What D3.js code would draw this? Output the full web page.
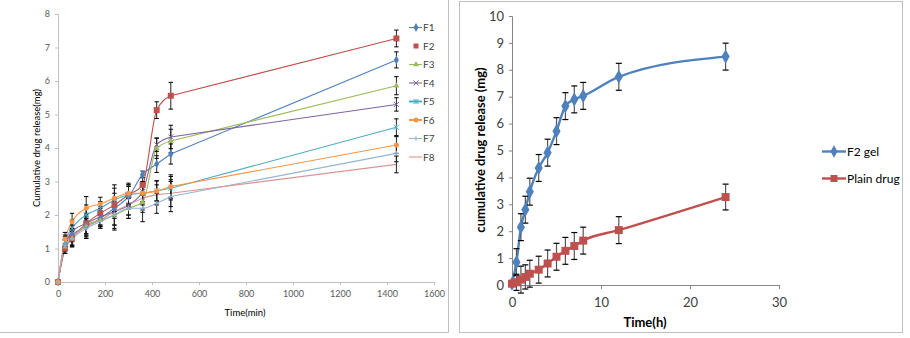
<!DOCTYPE html>
<html>
<head>
<meta charset="utf-8">
<script src="https://cdn.jsdelivr.net/npm/d3@7"></script>
<style>
  body { margin: 0; background: #fff; }
  svg { display: block; }
</style>
</head>
<body>
<script>
// left chart: release of F1..F8 over minutes
const timeMin = [0, 30, 60, 120, 180, 240, 300, 360, 420, 480, 1440];
const formulations = ["F1", "F2", "F3", "F4", "F5", "F6", "F7", "F8"];
const releaseF = [
  [0, 1.1, 1.4, 1.65, 1.9, 2.2, 2.55, 3.21, 3.52, 3.82, 6.63],
  [0, 1.0, 1.3, 1.75, 2.05, 2.3, 2.6, 2.9, 5.13, 5.56, 7.27],
  [0, 1.05, 1.3, 1.7, 1.85, 2.0, 2.2, 2.38, 3.99, 4.21, 5.86],
  [0, 1.1, 1.5, 1.75, 1.95, 2.1, 2.3, 2.7, 4.1, 4.33, 5.3],
  [0, 1.2, 1.6, 2.0, 2.2, 2.45, 2.6, 2.65, 2.72, 2.8, 4.62],
  [0, 1.28, 1.8, 2.2, 2.33, 2.5, 2.65, 2.65, 2.72, 2.85, 4.09],
  [0, 1.1, 1.3, 1.6, 1.8, 2.0, 2.2, 2.2, 2.35, 2.55, 3.84],
  [0, 1.15, 1.35, 1.65, 1.85, 2.1, 2.3, 2.5, 2.6, 2.65, 3.51]
];
const sdF = [
  [0, 0.15, 0.2, 0.25, 0.2, 0.3, 0.3, 0.1, 0.25, 0.3, 0.24],
  [0, 0.15, 0.25, 0.45, 0.2, 0.35, 0.3, 0.3, 0.25, 0.4, 0.25],
  [0, 0.2, 0.2, 0.3, 0.2, 0.4, 0.3, 0.3, 0.3, 0.35, 0.27],
  [0, 0.15, 0.2, 0.3, 0.25, 0.4, 0.3, 0.3, 0.2, 0.35, 0.2],
  [0, 0.2, 0.25, 0.3, 0.2, 0.35, 0.3, 0.35, 0.3, 0.35, 0.25],
  [0, 0.2, 0.25, 0.35, 0.2, 0.4, 0.3, 0.3, 0.3, 0.35, 0.25],
  [0, 0.2, 0.25, 0.3, 0.2, 0.45, 0.3, 0.4, 0.3, 0.45, 0.25],
  [0, 0.2, 0.25, 0.3, 0.2, 0.4, 0.3, 0.35, 0.3, 0.4, 0.25]
];
const colorsF = ["#4F81BD", "#C0504D", "#9BBB59", "#8064A2", "#4BACC6", "#F79646", "#95B3D7", "#D99694"];
const markersF = ["diamond", "square", "triangle", "x", "star", "circle", "plus", "none"];

// right chart: F2 gel vs plain drug over hours
const timeH = [0, 0.5, 1, 1.5, 2, 3, 4, 5, 6, 7, 8, 12, 24];
const gelRelease = [0.05, 0.85, 2.15, 2.8, 3.47, 4.35, 4.92, 5.72, 6.65, 6.9, 7.03, 7.74, 8.49];
const gelSd = [0.05, 0.5, 0.5, 0.5, 0.5, 0.5, 0.5, 0.5, 0.5, 0.5, 0.5, 0.5, 0.5];
const plainRelease = [0.05, 0.1, 0.2, 0.3, 0.42, 0.57, 0.8, 1.05, 1.27, 1.45, 1.65, 2.04, 3.27];
const plainSd = [0.05, 0.3, 0.5, 0.45, 0.5, 0.5, 0.5, 0.5, 0.5, 0.5, 0.5, 0.5, 0.48];

const W = 910, H = 338;
const font = "Lato, 'Open Sans', sans-serif";

const svg = d3.select("body").append("svg")
  .attr("width", W).attr("height", H)
  .style("font-family", font);

// panel frames
svg.append("path")
  .attr("d", "M0,332.5H448.5V-1")
  .attr("fill", "none").attr("stroke", "#BFBFBF");
svg.append("rect")
  .attr("x", 459.5).attr("y", 1.5).attr("width", 443).attr("height", 331)
  .attr("fill", "none").attr("stroke", "#BFBFBF");

function marker(g, type, size, color) {
  const s = size;
  if (type === "diamond") {
    g.append("path").attr("d", d3.symbol(d3.symbolDiamond, s * s * 0.9)())
      .attr("fill", color);
  } else if (type === "square") {
    g.append("rect").attr("x", -s / 2).attr("y", -s / 2).attr("width", s).attr("height", s)
      .attr("fill", color);
  } else if (type === "triangle") {
    g.append("path").attr("d", d3.symbol(d3.symbolTriangle, s * s * 0.6)())
      .attr("fill", color);
  } else if (type === "circle") {
    g.append("circle").attr("r", s / 2).attr("fill", color);
  } else if (type === "x") {
    g.append("path").attr("d", `M${-s / 2},${-s / 2}L${s / 2},${s / 2}M${-s / 2},${s / 2}L${s / 2},${-s / 2}`)
      .attr("stroke", color).attr("stroke-width", 1);
  } else if (type === "star") {
    g.append("path").attr("d", `M${-s / 2},${-s / 2}L${s / 2},${s / 2}M${-s / 2},${s / 2}L${s / 2},${-s / 2}M0,${-s / 2}V${s / 2}`)
      .attr("stroke", color).attr("stroke-width", 1);
  } else if (type === "plus") {
    g.append("path").attr("d", `M${-s / 2},0H${s / 2}M0,${-s / 2}V${s / 2}`)
      .attr("stroke", color).attr("stroke-width", 1);
  }
}

function errorBars(g, xs, ys, sds, x, y, cap, stemColor, width) {
  xs.forEach((t, i) => {
    if (sds[i] <= 0) return;
    const px = x(t), y1 = y(ys[i] + sds[i]), y0 = y(ys[i] - sds[i]);
    g.append("line").attr("x1", px).attr("x2", px).attr("y1", y1).attr("y2", y0)
      .attr("stroke", stemColor).attr("stroke-width", width);
    [y1, y0].forEach(v => g.append("line")
      .attr("x1", px - cap).attr("x2", px + cap).attr("y1", v).attr("y2", v)
      .attr("stroke", "#000").attr("stroke-width", width));
  });
}

// ---------- left chart ----------
{
  const x = d3.scaleLinear().domain([0, 1600]).range([58, 434]);
  const y = d3.scaleLinear().domain([0, 8]).range([282, 14]);
  const g = svg.append("g");

  const yAxis = g.append("g").attr("transform", "translate(58,0)")
    .call(d3.axisLeft(y).ticks(8).tickSize(3).tickPadding(5));
  const xAxis = g.append("g").attr("transform", "translate(0,282)")
    .call(d3.axisBottom(x).tickValues(d3.range(0, 1601, 200))
      .tickFormat(d3.format("d")).tickSize(3).tickPadding(6));
  [yAxis, xAxis].forEach(a => {
    a.select(".domain").attr("stroke", "#BFBFBF");
    a.selectAll(".tick line").attr("stroke", "#BFBFBF");
    a.selectAll("text").attr("fill", "#595959").attr("font-size", 9).attr("font-family", font);
  });

  // smooth through the first hours, then a plain segment to the 24 h point
  const smooth = d3.line().curve(d3.curveMonotoneX)
    .x(d => x(d[0])).y(d => y(d[1]));
  const straight = d3.line().x(d => x(d[0])).y(d => y(d[1]));

  releaseF.forEach((vals, k) => {
    const pts = vals.map((v, i) => [timeMin[i], v]);
    const n = pts.length;
    g.append("path").attr("d", smooth(pts.slice(0, n - 1)) + straight(pts.slice(n - 2)).replace(/^M[^L]*/, ""))
      .attr("fill", "none").attr("stroke", colorsF[k]).attr("stroke-width", 1.1);
  });
  releaseF.forEach((vals, k) => {
    errorBars(g, timeMin, vals, sdF[k], x, y, 2.2, "#222", 1);
  });
  releaseF.forEach((vals, k) => {
    vals.forEach((v, i) => {
      const m = g.append("g").attr("transform", `translate(${x(timeMin[i])},${y(v)})`);
      marker(m, markersF[k], k === 1 ? 6 : 5, colorsF[k]);
    });
  });

  g.append("text").attr("transform", "translate(40,148) rotate(-90)")
    .attr("text-anchor", "middle").attr("font-size", 9.5).attr("fill", "#000")
    .text("Cumulative drug release(mg)");
  g.append("text").attr("x", 245).attr("y", 316)
    .attr("text-anchor", "middle").attr("font-size", 9.5).attr("fill", "#000")
    .text("Time(min)");

  // legend
  formulations.forEach((name, k) => {
    const ly = 27.5 + k * 18.5;
    const lg = g.append("g");
    if (k !== 1) {
      lg.append("line").attr("x1", 409).attr("x2", 422).attr("y1", ly).attr("y2", ly)
        .attr("stroke", colorsF[k]).attr("stroke-width", k === 4 || k === 5 ? 2 : 1.1);
    }
    const m = lg.append("g").attr("transform", `translate(416,${ly})`);
    marker(m, markersF[k], 5, colorsF[k]);
    lg.append("text").attr("x", 423).attr("y", ly + 3.5)
      .attr("font-size", 10).attr("fill", "#404040").text(name);
  });
}

// ---------- right chart ----------
{
  const x = d3.scaleLinear().domain([0, 30]).range([512, 779]);
  const y = d3.scaleLinear().domain([0, 10]).range([285, 16]);
  const g = svg.append("g");

  const yAxis = g.append("g").attr("transform", "translate(512,0)")
    .call(d3.axisLeft(y).ticks(10).tickSize(3).tickPadding(5));
  const xAxis = g.append("g").attr("transform", "translate(0,285)")
    .call(d3.axisBottom(x).tickValues([0, 10, 20, 30]).tickSize(4).tickPadding(9));
  [yAxis, xAxis].forEach(a => {
    a.select(".domain").attr("stroke", "#868686");
    a.selectAll(".tick line").attr("stroke", "#868686");
    a.selectAll("text").attr("fill", "#404040").attr("font-size", 13).attr("font-family", font);
  });

  const line = d3.line().curve(d3.curveMonotoneX)
    .x((d, i) => x(timeH[i])).y(d => y(d));

  const series = [
    { name: "F2 gel", vals: gelRelease, sd: gelSd, color: "#4F81BD", m: "diamond", size: 8 },
    { name: "Plain drug", vals: plainRelease, sd: plainSd, color: "#C0504D", m: "square", size: 8 }
  ];

  series.forEach(s => {
    g.append("path").attr("d", line(s.vals))
      .attr("fill", "none").attr("stroke", s.color).attr("stroke-width", 2.4);
  });
  series.forEach(s => errorBars(g, timeH, s.vals, s.sd, x, y, 3, "#555", 1.2));
  series.forEach(s => {
    s.vals.forEach((v, i) => {
      const m = g.append("g").attr("transform", `translate(${x(timeH[i])},${y(v)})`);
      marker(m, s.m, s.size, s.color);
    });
  });

  g.append("text").attr("transform", "translate(485,150) rotate(-90)")
    .attr("text-anchor", "middle").attr("font-size", 13).attr("font-weight", "bold")
    .attr("fill", "#000").text("cumulative drug release (mg)");
  g.append("text").attr("x", 645).attr("y", 327)
    .attr("text-anchor", "middle").attr("font-size", 13).attr("font-weight", "bold")
    .attr("fill", "#000").text("Time(h)");

  series.forEach((s, k) => {
    const ly = k === 0 ? 151.5 : 178.5;
    g.append("line").attr("x1", 822).attr("x2", 846).attr("y1", ly).attr("y2", ly)
      .attr("stroke", s.color).attr("stroke-width", 2.4);
    const m = g.append("g").attr("transform", `translate(834,${ly})`);
    marker(m, s.m, 7, s.color);
    g.append("text").attr("x", 847).attr("y", ly + 4.5)
      .attr("font-size", 12).attr("fill", "#000").text(s.name);
  });
}
</script>
</body>
</html>
